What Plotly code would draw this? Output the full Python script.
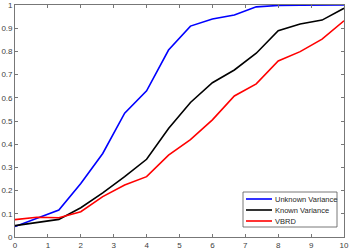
import plotly.graph_objects as go

x_vals = [0, 0.667, 1.333, 2, 2.667, 3.333, 4, 4.667, 5.333, 6, 6.667, 7.333, 8, 8.667, 9.333, 10]
unknown_var = [0.045, 0.08, 0.116, 0.231, 0.36, 0.534, 0.63, 0.806, 0.909, 0.94, 0.957, 0.992, 0.998, 0.999, 1.0, 1.0]
known_var = [0.049, 0.062, 0.076, 0.126, 0.19, 0.26, 0.335, 0.468, 0.58, 0.665, 0.72, 0.792, 0.889, 0.918, 0.935, 0.986]
vbrd = [0.075, 0.085, 0.083, 0.109, 0.174, 0.224, 0.26, 0.353, 0.42, 0.505, 0.608, 0.66, 0.759, 0.799, 0.853, 0.932]

series_names = ["Unknown Variance", "Known Variance", "VBRD"]
series_colors = ["#0000FF", "#000000", "#FF0000"]
series_values = [unknown_var, known_var, vbrd]

x_ticks = list(range(0, 11))
y_ticks = [0, 0.1, 0.2, 0.3, 0.4, 0.5, 0.6, 0.7, 0.8, 0.9, 1]
y_tick_text = ["0", "0.1", "0.2", "0.3", "0.4", "0.5", "0.6", "0.7", "0.8", "0.9", "1"]

fig = go.Figure()
for name, color, vals in zip(series_names, series_colors, series_values):
    fig.add_trace(go.Scatter(x=x_vals, y=vals, mode="lines", name=name,
                             line=dict(color=color, width=1.6), showlegend=False,
                             hoverinfo="skip"))

W, H = 350, 251
ml, mr, mt, mb = 15, 6, 5, 14
pw, ph = W - ml - mr, H - mt - mb

def px_x(p):
    return (p - ml) / pw

def px_y(p):
    return (H - mb - p) / ph

shapes = []
annotations = []
# legend box
shapes.append(dict(type="rect", xref="paper", yref="paper",
                   x0=px_x(243), x1=px_x(337), y0=px_y(227), y1=px_y(192),
                   line=dict(color="#555555", width=0.8), fillcolor="white", layer="above"))
for i, (name, color) in enumerate(zip(series_names, series_colors)):
    yy = px_y(199 + 11 * i)
    shapes.append(dict(type="line", xref="paper", yref="paper",
                       x0=px_x(246), x1=px_x(272), y0=yy, y1=yy,
                       line=dict(color=color, width=1.6), layer="above"))
    annotations.append(dict(xref="paper", yref="paper", x=px_x(273), y=yy,
                            text=name, showarrow=False, xanchor="left", yanchor="middle",
                            font=dict(size=7.5, color="#262626", family="Liberation Sans, Arial, sans-serif")))

axis_common = dict(showgrid=False, zeroline=False, showline=True, linecolor="#777777",
                   linewidth=0.8, mirror="ticks", ticks="inside", ticklen=3,
                   tickcolor="#777777", tickwidth=0.8, automargin=False,
                   tickfont=dict(size=8, color="#404040", family="Liberation Sans, Arial, sans-serif"))

fig.update_layout(
    width=W, height=H,
    margin=dict(l=ml, r=mr, t=mt, b=mb),
    paper_bgcolor="white", plot_bgcolor="white",
    xaxis=dict(range=[0, 10], tickvals=x_ticks, ticktext=[str(t) for t in x_ticks], **axis_common),
    yaxis=dict(range=[0, 1], tickvals=y_ticks, ticktext=y_tick_text, **axis_common),
    shapes=shapes, annotations=annotations, showlegend=False,
)

fig.write_html("out.html", config={"displayModeBar": False},
               post_script="document.body.style.margin='0';document.body.style.padding='0';")
